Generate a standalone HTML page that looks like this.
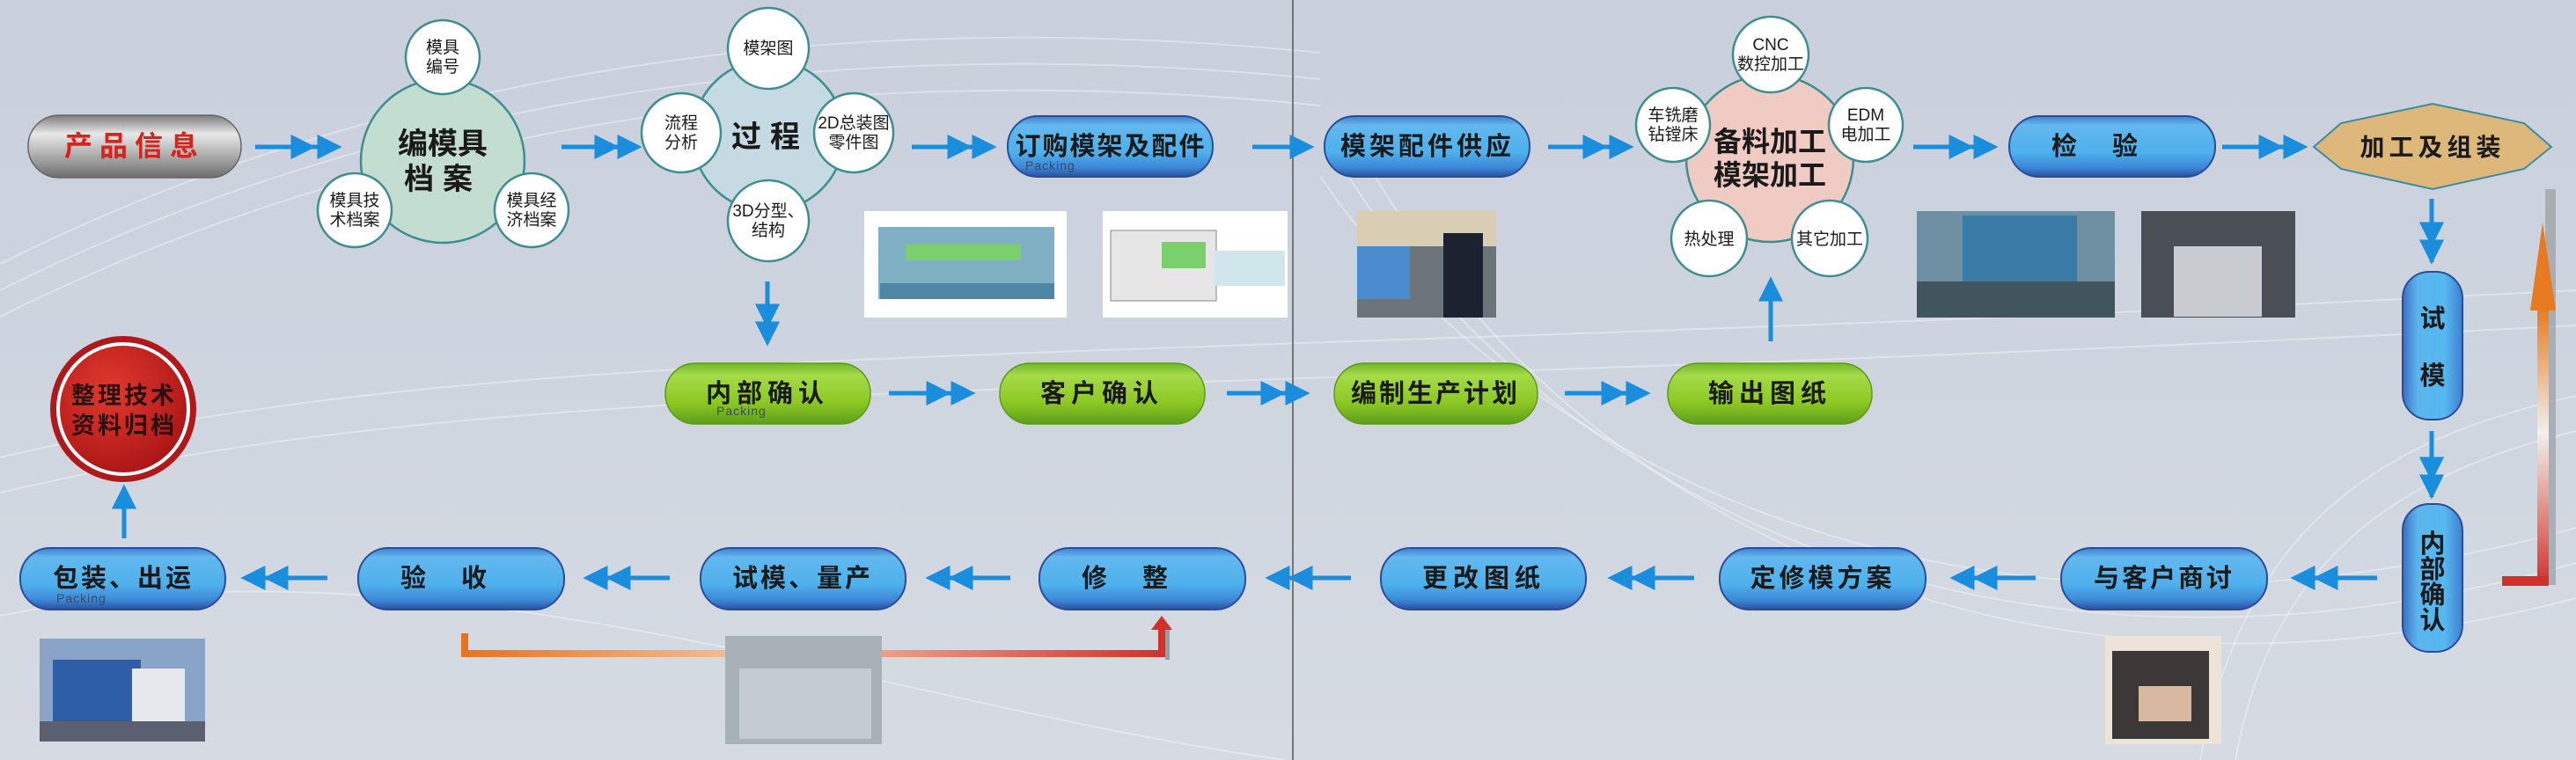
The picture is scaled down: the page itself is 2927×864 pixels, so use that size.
<!DOCTYPE html>
<html><head><meta charset="utf-8"><style>
html,body{margin:0;padding:0;}
body{width:2927px;height:864px;overflow:hidden;background:#cdd3de;}
svg{display:block;}
text{font-family:"Liberation Sans","Noto Sans CJK SC",sans-serif;}
</style></head><body>
<svg width="2927" height="864" viewBox="0 0 2927 864" xmlns="http://www.w3.org/2000/svg">
<defs>
<linearGradient id="bg" x1="0" y1="0" x2="0" y2="1"><stop offset="0" stop-color="#c9d0dc"/><stop offset="0.5" stop-color="#cfd5df"/><stop offset="1" stop-color="#d6dbe3"/></linearGradient>
<linearGradient id="blue" x1="0" y1="0" x2="0" y2="1"><stop offset="0" stop-color="#3f7fd0"/><stop offset="0.15" stop-color="#63b8ee"/><stop offset="0.6" stop-color="#4eb0ec"/><stop offset="0.85" stop-color="#3c86d6"/><stop offset="1" stop-color="#2c4f9e"/></linearGradient>
<linearGradient id="blueV" x1="0" y1="0" x2="1" y2="0"><stop offset="0" stop-color="#3a6fc4"/><stop offset="0.25" stop-color="#5db4ec"/><stop offset="0.7" stop-color="#55b8f0"/><stop offset="1" stop-color="#3f7fd0"/></linearGradient>
<linearGradient id="green" x1="0" y1="0" x2="0" y2="1"><stop offset="0" stop-color="#6fb828"/><stop offset="0.2" stop-color="#a6da4a"/><stop offset="0.65" stop-color="#8cc823"/><stop offset="1" stop-color="#5e9e1a"/></linearGradient>
<linearGradient id="gray" x1="0" y1="0" x2="0" y2="1"><stop offset="0" stop-color="#7c7c7c"/><stop offset="0.3" stop-color="#e8e8e8"/><stop offset="0.55" stop-color="#bdbdbd"/><stop offset="1" stop-color="#6d6d6d"/></linearGradient>
<radialGradient id="redc" cx="0.4" cy="0.35" r="0.7"><stop offset="0" stop-color="#e23a2e"/><stop offset="1" stop-color="#a81416"/></radialGradient>
<linearGradient id="upArr" x1="0" y1="1" x2="0" y2="0"><stop offset="0" stop-color="#d2302a"/><stop offset="0.55" stop-color="#f2f0ec"/><stop offset="1" stop-color="#e87a22"/></linearGradient>
<linearGradient id="brk" x1="0" y1="0" x2="1" y2="0"><stop offset="0" stop-color="#e8731e"/><stop offset="0.45" stop-color="#f6c9a8"/><stop offset="1" stop-color="#d2302a"/></linearGradient>
<g id="ar"><line x1="0" y1="0" x2="1" y2="0"/></g>
</defs>
<rect width="2927" height="864" fill="url(#bg)"/>
<g fill="none" stroke="#ffffff" stroke-opacity="0.35" stroke-width="2">
<path d="M0 300 C400 100 900 0 1500 60"/><path d="M0 330 C400 130 900 30 1500 90"/><path d="M0 360 C400 160 900 60 1500 120"/>
<path d="M0 520 C600 380 1200 420 2927 330"/><path d="M0 560 C600 420 1200 460 2927 370"/>
<path d="M1500 200 C1700 500 2200 800 2927 600"/><path d="M1520 180 C1720 520 2220 840 2927 640"/><path d="M1540 160 C1740 540 2240 860 2927 680"/>
<path d="M2500 864 C2550 600 2700 500 2927 450"/><path d="M2540 864 C2580 640 2720 540 2927 490"/>
<path d="M0 700 C500 600 1000 800 1460 864"/>
</g>
<line x1="1469" y1="0" x2="1469" y2="864" stroke="#555" stroke-width="1.5"/>

<!-- Arrows -->
<g stroke="#1a8ddc" stroke-width="5" fill="#1a8ddc">
<!-- right arrows row1 -->
<line x1="290" y1="167" x2="383" y2="167"/><polygon points="333,157 353,167 333,177"/><polygon points="363,157 383,167 363,177"/>
<line x1="638" y1="167" x2="724" y2="167"/><polygon points="678,157 698,167 678,177"/><polygon points="704,157 724,167 704,177"/>
<line x1="1036" y1="167" x2="1127" y2="167"/><polygon points="1079,157 1099,167 1079,177"/><polygon points="1107,157 1127,167 1107,177"/>
<line x1="1423" y1="167" x2="1488" y2="167"/><polygon points="1468,157 1488,167 1468,177"/>
<line x1="1759" y1="167" x2="1851" y2="167"/><polygon points="1801,157 1821,167 1801,177"/><polygon points="1831,157 1851,167 1831,177"/>
<line x1="2174" y1="167" x2="2265" y2="167"/><polygon points="2217,157 2237,167 2217,177"/><polygon points="2245,157 2265,167 2245,177"/>
<line x1="2525" y1="167" x2="2617" y2="167"/><polygon points="2569,157 2589,167 2569,177"/><polygon points="2597,157 2617,167 2597,177"/>
<!-- row2 -->
<line x1="1010" y1="447" x2="1103" y2="447"/><polygon points="1055,437 1075,447 1055,457"/><polygon points="1083,437 1103,447 1083,457"/>
<line x1="1394" y1="447" x2="1483" y2="447"/><polygon points="1435,437 1455,447 1435,457"/><polygon points="1463,437 1483,447 1463,457"/>
<line x1="1778" y1="447" x2="1870" y2="447"/><polygon points="1822,437 1842,447 1822,457"/><polygon points="1850,437 1870,447 1850,457"/>
<!-- verticals -->
<line x1="872" y1="320" x2="872" y2="388"/><polygon points="862,348 872,368 882,348"/><polygon points="862,368 872,388 882,368"/>
<line x1="2012" y1="320" x2="2012" y2="388"/><polygon points="2002,340 2012,320 2022,340"/>
<line x1="2763" y1="226" x2="2763" y2="298"/><polygon points="2753,255 2763,275 2773,255"/><polygon points="2753,275 2763,295 2773,275"/>
<line x1="2763" y1="490" x2="2763" y2="565"/><polygon points="2753,522 2763,542 2773,522"/><polygon points="2753,542 2763,562 2773,542"/>
<line x1="141" y1="556" x2="141" y2="612"/><polygon points="131,576 141,556 151,576"/>
<!-- row3 left arrows -->
<line x1="279" y1="657" x2="372" y2="657"/><polygon points="299,647 279,657 299,667"/><polygon points="325,647 305,657 325,667"/>
<line x1="668" y1="657" x2="761" y2="657"/><polygon points="688,647 668,657 688,667"/><polygon points="714,647 694,657 714,667"/>
<line x1="1057" y1="657" x2="1148" y2="657"/><polygon points="1077,647 1057,657 1077,667"/><polygon points="1103,647 1083,657 1103,667"/>
<line x1="1443" y1="657" x2="1535" y2="657"/><polygon points="1463,647 1443,657 1463,667"/><polygon points="1489,647 1469,657 1489,667"/>
<line x1="1832" y1="657" x2="1925" y2="657"/><polygon points="1852,647 1832,657 1852,667"/><polygon points="1878,647 1858,657 1878,667"/>
<line x1="2221" y1="657" x2="2313" y2="657"/><polygon points="2241,647 2221,657 2241,667"/><polygon points="2267,647 2247,657 2267,667"/>
<line x1="2608" y1="657" x2="2701" y2="657"/><polygon points="2628,647 2608,657 2628,667"/><polygon points="2654,647 2634,657 2654,667"/>
</g>

<!-- red up arrow right -->
<rect x="2892" y="215" width="12" height="450" fill="#9a9ca2" opacity="0.7"/>
<rect x="2883" y="350" width="13" height="316" fill="url(#upArr)"/>
<rect x="2843" y="655" width="53" height="11" fill="#d2302a"/>
<polygon points="2875,353 2889,253 2904,353" fill="#e87a22"/>
<!-- bracket bottom -->
<rect x="524" y="720" width="8" height="26" fill="#e8731e"/>
<rect x="524" y="739" width="800" height="8" fill="url(#brk)"/>
<rect x="1316" y="714" width="8" height="33" fill="#d2302a"/>
<rect x="1324" y="714" width="5" height="36" fill="#9a9ca2"/>
<polygon points="1308,716 1320,700 1332,716" fill="#d2302a"/>

<!-- Pills -->
<g stroke="#2b4c98" stroke-width="2">
<rect x="1145" y="132" width="233" height="69" rx="34" fill="url(#blue)"/>
<rect x="1505" y="132" width="233" height="69" rx="34" fill="url(#blue)"/>
<rect x="2283" y="132" width="234" height="69" rx="34" fill="url(#blue)"/>
<rect x="23" y="623" width="233" height="70" rx="34" fill="url(#blue)"/>
<rect x="407" y="623" width="234" height="70" rx="34" fill="url(#blue)"/>
<rect x="796" y="623" width="233" height="70" rx="34" fill="url(#blue)"/>
<rect x="1181" y="623" width="234" height="70" rx="34" fill="url(#blue)"/>
<rect x="1569" y="623" width="233" height="70" rx="34" fill="url(#blue)"/>
<rect x="1954" y="623" width="234" height="70" rx="34" fill="url(#blue)"/>
<rect x="2342" y="623" width="234" height="70" rx="34" fill="url(#blue)"/>
<rect x="2730" y="309" width="68" height="168" rx="30" fill="url(#blueV)"/>
<rect x="2730" y="573" width="68" height="168" rx="30" fill="url(#blueV)"/>
</g>
<g stroke="#5e9a1a" stroke-width="1.5">
<rect x="756" y="413" width="233" height="69" rx="34" fill="url(#green)"/>
<rect x="1136" y="413" width="233" height="69" rx="34" fill="url(#green)"/>
<rect x="1516" y="413" width="231" height="69" rx="34" fill="url(#green)"/>
<rect x="1895" y="413" width="232" height="69" rx="34" fill="url(#green)"/>
</g>
<rect x="32" y="131" width="242" height="71" rx="35" fill="url(#gray)" stroke="#666" stroke-width="1.5"/>
<polygon points="2629,167 2660,140 2764,118 2868,140 2899,167 2868,192 2764,215 2660,192" fill="#ddb87a" stroke="#3c8ca0" stroke-width="2"/>

<!-- Pill text -->
<g font-weight="bold" fill="#1a1a1a" font-size="29" text-anchor="middle">
<text x="153" y="177" fill="#d8231d" font-size="32" letter-spacing="8">产品信息</text>
<text x="1262" y="176" letter-spacing="2">订购模架及配件</text>
<text x="1622" y="176" letter-spacing="4">模架配件供应</text>
<text x="2400" y="176" letter-spacing="40">检验</text>
<text x="2764" y="177" font-size="28" letter-spacing="5">加工及组装</text>
<text x="872" y="457" letter-spacing="6">内部确认</text>
<text x="1252" y="457" letter-spacing="6">客户确认</text>
<text x="1631" y="457" letter-spacing="3">编制生产计划</text>
<text x="2011" y="457" letter-spacing="6">输出图纸</text>
<text x="140" y="667" letter-spacing="3">包装、出运</text>
<text x="524" y="667" letter-spacing="40">验收</text>
<text x="912" y="667" letter-spacing="3">试模、量产</text>
<text x="1298" y="667" letter-spacing="40">修整</text>
<text x="1686" y="667" letter-spacing="6">更改图纸</text>
<text x="2071" y="667" letter-spacing="4">定修模方案</text>
<text x="2459" y="667" letter-spacing="3">与客户商讨</text>
<text x="2764" y="372">试</text><text x="2764" y="437">模</text>
<text x="2764" y="628">内</text><text x="2764" y="657">部</text><text x="2764" y="686">确</text><text x="2764" y="715">认</text>
</g>
<g font-family="Liberation Serif" font-size="14" fill="#3a4a60" letter-spacing="1">
<text x="1165" y="193">Packing</text><text x="814" y="472">Packing</text><text x="64" y="685">Packing</text>
</g>

<!-- Clusters -->
<g stroke="#3e8e90" stroke-width="2.5">
<circle cx="503" cy="183" r="93" fill="#c3ddd0"/>
<circle cx="503" cy="65" r="42" fill="#fff"/>
<circle cx="403" cy="239" r="42" fill="#fff"/>
<circle cx="604" cy="239" r="42" fill="#fff"/>
<circle cx="873" cy="154" r="86" fill="#c6dae4"/>
<circle cx="873" cy="55" r="46" fill="#fff"/>
<circle cx="774" cy="151" r="45" fill="#fff"/>
<circle cx="970" cy="151" r="45" fill="#fff"/>
<circle cx="873" cy="251" r="46" fill="#fff"/>
<circle cx="2011" cy="180" r="95" fill="#f0cbc4"/>
<circle cx="2012" cy="62" r="43" fill="#fff"/>
<circle cx="1901" cy="142" r="42" fill="#fff"/>
<circle cx="2120" cy="142" r="42" fill="#fff"/>
<circle cx="1942" cy="271" r="43" fill="#fff"/>
<circle cx="2079" cy="271" r="43" fill="#fff"/>
</g>
<g font-size="19" fill="#1a1a1a" text-anchor="middle">
<text x="503" y="60">模具</text><text x="503" y="82">编号</text>
<text x="403" y="234">模具技</text><text x="403" y="256">术档案</text>
<text x="604" y="234">模具经</text><text x="604" y="256">济档案</text>
<text x="873" y="61">模架图</text>
<text x="774" y="146">流程</text><text x="774" y="168">分析</text>
<text x="970" y="146">2D总装图</text><text x="970" y="168">零件图</text>
<text x="873" y="246">3D分型、</text><text x="873" y="268">结构</text>
<text x="2012" y="57">CNC</text><text x="2012" y="79">数控加工</text>
<text x="1901" y="137">车铣磨</text><text x="1901" y="159">钻镗床</text>
<text x="2120" y="137">EDM</text><text x="2120" y="159">电加工</text>
<text x="1942" y="278">热处理</text><text x="2079" y="278">其它加工</text>
</g>
<g font-size="34" font-weight="bold" fill="#1a1a1a" text-anchor="middle">
<text x="503" y="175">编模具</text><text x="503" y="215" letter-spacing="10">档案</text>
<text x="875" y="167" letter-spacing="10">过程</text>
<text x="2011" y="172" font-size="32">备料加工</text><text x="2011" y="210" font-size="32">模架加工</text>
</g>

<!-- Red archive circle -->
<circle cx="140" cy="465" r="83" fill="#b0191b"/>
<circle cx="140" cy="465" r="74" fill="url(#redc)" stroke="#fff" stroke-width="4"/>
<g font-size="27" font-weight="bold" fill="#2a1010" text-anchor="middle" letter-spacing="3">
<text x="141" y="459">整理技术</text><text x="141" y="493">资料归档</text>
</g>

<!-- Images -->
<rect x="982" y="240" width="230" height="121" fill="#fff"/>
<rect x="998" y="258" width="200" height="82" fill="#7fb0c4"/>
<rect x="1000" y="322" width="198" height="18" fill="#4e86a6"/>
<rect x="1030" y="278" width="130" height="18" fill="#7ad06a"/>
<rect x="1253" y="240" width="210" height="121" fill="#fff"/>
<rect x="1262" y="262" width="120" height="80" fill="#e6e6e6" stroke="#888"/>
<rect x="1320" y="275" width="50" height="30" fill="#7ad06a"/>
<rect x="1380" y="285" width="80" height="40" fill="#cfe6ea"/>
<rect x="1542" y="240" width="158" height="121" fill="#6b7478"/>
<rect x="1542" y="240" width="158" height="40" fill="#d9cdb3"/>
<rect x="1542" y="280" width="60" height="60" fill="#4b8bd0"/>
<rect x="1640" y="265" width="45" height="96" fill="#1d2230"/>
<rect x="2178" y="240" width="225" height="121" fill="#6f8fa2"/>
<rect x="2230" y="245" width="130" height="110" fill="#3a7aa6"/>
<rect x="2178" y="320" width="225" height="41" fill="#40555e"/>
<rect x="2433" y="240" width="175" height="121" fill="#4a4f55"/>
<rect x="2470" y="280" width="100" height="80" fill="#c8ccd0"/>
<rect x="45" y="726" width="188" height="117" fill="#8aa4c8"/>
<rect x="60" y="750" width="100" height="70" fill="#2e5ea8"/>
<rect x="150" y="760" width="60" height="65" fill="#e6e8ee"/>
<rect x="45" y="820" width="188" height="23" fill="#5a6070"/>
<rect x="824" y="723" width="178" height="123" fill="#a8b0b8"/>
<rect x="840" y="760" width="150" height="80" fill="#c4cbd2"/>
<rect x="2392" y="723" width="132" height="123" fill="#ece4d6"/>
<rect x="2400" y="740" width="110" height="100" fill="#3c3838"/>
<rect x="2430" y="780" width="60" height="40" fill="#d8b8a0"/>
</svg>
</body></html>
